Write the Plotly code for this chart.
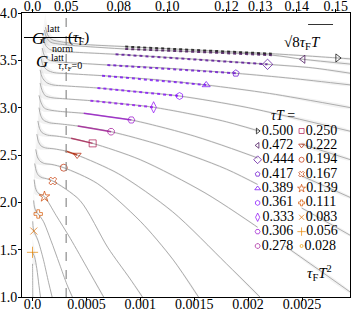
import plotly.graph_objects as go

# ---------------- data ----------------
tau_T = [0.500, 0.472, 0.444, 0.417, 0.389, 0.361, 0.333, 0.306, 0.278,
         0.250, 0.222, 0.194, 0.167, 0.139, 0.111, 0.083, 0.056, 0.028]
tau_labels = ["0.500", "0.472", "0.444", "0.417", "0.389", "0.361", "0.333", "0.306", "0.278",
              "0.250", "0.222", "0.194", "0.167", "0.139", "0.111", "0.083", "0.056", "0.028"]

# flow curves: x = tau_F T^2, y = G/Gnorm
cx_0500 = [0.00012, 0.00014, 0.00018, 0.00027, 0.00045, 0.00086, 0.0014, 0.00222, 0.00283, 0.00295]
cy_0500 = [3.85, 3.77, 3.72, 3.695, 3.67, 3.645, 3.615, 3.57, 3.525, 3.515]
cx_0472 = [0.00011, 0.00013, 0.00017, 0.00026, 0.00045, 0.00086, 0.0014, 0.00222, 0.00251, 0.00295]
cy_0472 = [3.82, 3.74, 3.69, 3.67, 3.65, 3.62, 3.595, 3.555, 3.511, 3.46]
cx_0444 = [0.00010, 0.00012, 0.00016, 0.00024, 0.00040, 0.00077, 0.0014, 0.00218, 0.0026, 0.00295]
cy_0444 = [3.75, 3.66, 3.615, 3.595, 3.585, 3.564, 3.52, 3.458, 3.42, 3.363]
cx_0417 = [0.00009, 0.00011, 0.00015, 0.00022, 0.00035, 0.000694, 0.0012, 0.001886, 0.0024, 0.00295]
cy_0417 = [3.63, 3.55, 3.505, 3.485, 3.475, 3.451, 3.42, 3.363, 3.31, 3.24]
cx_0389 = [0.00008, 0.00010, 0.00014, 0.00020, 0.00032, 0.000645, 0.0011, 0.001611, 0.0022, 0.00295]
cy_0389 = [3.52, 3.44, 3.395, 3.37, 3.36, 3.338, 3.30, 3.24, 3.15, 3.00]
cx_0361 = [0.00007, 0.00009, 0.00013, 0.00019, 0.00030, 0.000602, 0.0010, 0.001364, 0.0020, 0.00295]
cy_0361 = [3.40, 3.32, 3.265, 3.24, 3.23, 3.208, 3.165, 3.123, 3.00, 2.75]
cx_0333 = [0.00007, 0.00009, 0.00012, 0.00018, 0.00028, 0.000537, 0.0008, 0.001123, 0.0018, 0.00295]
cy_0333 = [3.26, 3.18, 3.125, 3.105, 3.095, 3.074, 3.045, 3.004, 2.85, 2.45]
cx_0306 = [0.00006, 0.00008, 0.00011, 0.00016, 0.00026, 0.000475, 0.0007, 0.000917, 0.0015, 0.0022, 0.00295]
cy_0306 = [3.13, 3.05, 2.995, 2.975, 2.96, 2.94, 2.905, 2.87, 2.70, 2.42, 2.05]
cx_0278 = [0.00006, 0.000075, 0.00010, 0.00016, 0.00024, 0.000419, 0.000729, 0.0012, 0.0018, 0.0024, 0.00295]
cy_0278 = [3.00, 2.92, 2.87, 2.84, 2.83, 2.806, 2.746, 2.60, 2.35, 2.00, 1.65]
cx_0250 = [0.00005, 0.000065, 0.00009, 0.00014, 0.00022, 0.000358, 0.000558, 0.0010, 0.0016, 0.0022, 0.00295]
cy_0250 = [2.86, 2.78, 2.735, 2.71, 2.70, 2.676, 2.623, 2.45, 2.10, 1.65, 1.05]
cx_0222 = [0.00004, 0.000055, 0.00008, 0.00012, 0.00020, 0.000306, 0.000414, 0.0008, 0.0013, 0.0018, 0.00211]
cy_0222 = [2.72, 2.64, 2.595, 2.575, 2.565, 2.542, 2.50, 2.30, 1.90, 1.35, 1.00]
cx_0194 = [0.00003, 0.000045, 0.00007, 0.00011, 0.00018, 0.00029, 0.0006, 0.0010, 0.0013, 0.00154]
cy_0194 = [2.56, 2.48, 2.435, 2.41, 2.40, 2.366, 2.20, 1.80, 1.40, 1.00]
cx_0167 = [0.00002, 0.000035, 0.000055, 0.00009, 0.00013, 0.000188, 0.00044, 0.0007, 0.0009, 0.00102]
cy_0167 = [2.41, 2.33, 2.285, 2.26, 2.25, 2.225, 2.02, 1.52, 1.20, 1.00]
cx_0139 = [0.000015, 0.000025, 0.00004, 0.00006, 0.00008, 0.000111, 0.00022, 0.00035, 0.00052, 0.00066]
cy_0139 = [2.24, 2.16, 2.115, 2.09, 2.08, 2.06, 1.86, 1.62, 1.28, 1.00]
cx_0111 = [0.00001, 0.000018, 0.00003, 0.000042, 0.000053, 0.00010, 0.00017, 0.00025, 0.00032, 0.00037]
cy_0111 = [2.02, 1.95, 1.91, 1.89, 1.877, 1.80, 1.60, 1.35, 1.13, 1.00]
cx_0083 = [0.000002, 0.000006, 0.000012, 0.00005, 0.00010, 0.00015, 0.000182]
cy_0083 = [1.80, 1.73, 1.697, 1.60, 1.40, 1.15, 1.00]
cx_0056 = [0.0, 0.00002, 0.00004, 0.00006, 0.000074]
cy_0056 = [1.472, 1.42, 1.30, 1.12, 1.00]
cx_0028 = [0.0, 0.000001, 0.000002, 0.000003]
cy_0028 = [1.35, 1.30, 1.10, 0.95]
# band half-widths: wide at the smallest flow times, narrow afterwards
band_head = [0.15, 0.08, 0.04, 0.02]
band_tail = 0.01

curves_x = [cx_0500, cx_0472, cx_0444, cx_0417, cx_0389, cx_0361, cx_0333, cx_0306, cx_0278,
            cx_0250, cx_0222, cx_0194, cx_0167, cx_0139, cx_0111, cx_0083, cx_0056, cx_0028]
curves_y = [cy_0500, cy_0472, cy_0444, cy_0417, cy_0389, cy_0361, cy_0333, cy_0306, cy_0278,
            cy_0250, cy_0222, cy_0194, cy_0167, cy_0139, cy_0111, cy_0083, cy_0056, cy_0028]

# fit-window segments (start, end) and final markers
seg_x0 = [0.00086, 0.00086, 0.00077, 0.000694, 0.000645, 0.000602, 0.000537, 0.000475, 0.000419, 0.000358, 0.000306]
seg_y0 = [3.645, 3.62, 3.564, 3.451, 3.338, 3.208, 3.074, 2.94, 2.806, 2.676, 2.542]
seg_x1 = [0.00222, 0.00222, 0.00218, 0.001886, 0.001611, 0.001364, 0.001123, 0.000917, 0.000729, 0.000558, 0.000414]
seg_y1 = [3.57, 3.555, 3.458, 3.363, 3.24, 3.123, 3.004, 2.87, 2.746, 2.623, 2.50]
mark_x = [0.00283, 0.00251, 0.00218, 0.001886, 0.001611, 0.001364, 0.001123, 0.000917, 0.000729,
          0.000558, 0.000414, 0.00029, 0.000188, 0.000111, 0.000053, 0.000012, 0.0, 0.0]
mark_y = [3.525, 3.511, 3.458, 3.363, 3.24, 3.123, 3.004, 2.87, 2.746,
          2.623, 2.50, 2.366, 2.225, 2.06, 1.877, 1.697, 1.472, 0.95]

y_ticks = [1.0, 1.5, 2.0, 2.5, 3.0, 3.5, 4.0]
x_ticks = [0.0, 0.0005, 0.001, 0.0015, 0.002, 0.0025]
x_tick_labels = ["0.0", "0.0005", "0.001", "0.0015", "0.002", "0.0025"]
top_ticks = [0.0, 0.05, 0.08, 0.10, 0.12, 0.13, 0.14, 0.15]
top_tick_labels = ["0.0", "0.05", "0.08", "0.10", "0.12", "0.13", "0.14", "0.15"]
dash_at = 0.05  # sqrt(8 tau_F) T

# ---------------- styles ----------------
colors = ["rgb(0,0,0)", "rgb(57,0,79)", "rgb(81,0,150)", "rgb(99,1,206)", "rgb(114,2,243)",
          "rgb(128,4,255)", "rgb(140,7,243)", "rgb(151,11,206)", "rgb(161,16,150)", "rgb(171,23,79)",
          "rgb(180,32,0)", "rgb(189,42,0)", "rgb(198,55,0)", "rgb(206,70,0)", "rgb(213,87,0)",
          "rgb(221,108,0)", "rgb(228,131,0)", "rgb(235,157,0)"]
symbols = ["triangle-right-open", "triangle-left-open", "diamond-open", "pentagon-open",
           "triangle-up-open", "hexagon-open", "diamond-tall-open", "hexagon2-open", "octagon-open",
           "square-open", "triangle-down-open", "circle-open", "x-open", "star-open",
           "cross-open", "x-thin-open", "cross-thin-open", "circle-open"]
msizes = [7, 7, 8, 7, 7, 7, 8, 7, 7, 7, 7, 7, 7, 8, 7, 7, 8, 3]

W, H = 353, 312
L, R, T, B = 21.5, 350.0, 13.0, 297.0
FONT = "Liberation Serif"


def px(xp):
    return (xp - L) / (R - L)


def py(yp):
    return (B - yp) / (B - T)


def rgba(c, a):
    return c.replace("rgb(", "rgba(").replace(")", f",{a})")


fig = go.Figure()

# error bands
for xs, ys in zip(curves_x, curves_y):
    es = [band_head[k] if k < len(band_head) else band_tail for k in range(len(xs))]
    up = [y + e for y, e in zip(ys, es)]
    lo = [y - e for y, e in zip(ys, es)]
    fig.add_trace(go.Scatter(x=xs + xs[::-1], y=up + lo[::-1], fill="toself",
                             fillcolor="rgba(0,0,0,0.05)", line=dict(width=0, shape="spline", smoothing=0.8),
                             mode="lines", hoverinfo="skip", showlegend=False))
# central curves
for xs, ys in zip(curves_x, curves_y):
    fig.add_trace(go.Scatter(x=xs, y=ys, mode="lines",
                             line=dict(color="rgba(165,165,165,0.9)", width=1, shape="spline", smoothing=0.8),
                             hoverinfo="skip", showlegend=False))

# fit-window segments
for i in range(len(seg_x0)):
    dotted = tau_T[i] > 0.32
    fig.add_trace(go.Scatter(x=[seg_x0[i], seg_x1[i]], y=[seg_y0[i], seg_y1[i]], mode="lines",
                             line=dict(color=rgba(colors[i], 0.75), width=2 if dotted else 1.5,
                                       dash="dot" if dotted else "solid"),
                             hoverinfo="skip", showlegend=False))

# end markers
for i in range(len(tau_T)):
    fig.add_trace(go.Scatter(x=[mark_x[i]], y=[mark_y[i]], mode="markers",
                             marker=dict(symbol=symbols[i], size=msizes[i],
                                         color=rgba(colors[i], 0.7),
                                         line=dict(width=1, color=rgba(colors[i], 0.7))),
                             hoverinfo="skip", showlegend=False))

# dummy trace for the top axis
fig.add_trace(go.Scatter(x=[0], y=[2], xaxis="x2", mode="markers",
                         marker=dict(opacity=0), hoverinfo="skip", showlegend=False))

# custom two-column legend on an auxiliary axis (column, row)
n_rows = 9
for i in range(len(tau_T)):
    col = i // n_rows
    row = i % n_rows
    fig.add_trace(go.Scatter(x=[col], y=[row], xaxis="x3", yaxis="y3", mode="markers+text",
                             text=[tau_labels[i]], textposition="middle right",
                             textfont=dict(family=FONT, size=14, color="black"),
                             marker=dict(symbol=symbols[i], size=max(msizes[i] - 2, 3),
                                         color=rgba(colors[i], 0.7),
                                         line=dict(width=1, color=rgba(colors[i], 0.7))),
                             hoverinfo="skip", showlegend=False, cliponaxis=False))

x_range = [-0.0000975, 0.002945]
fig.update_layout(
    width=W, height=H,
    margin=dict(l=L, r=W - R, t=T, b=H - B, pad=0),
    paper_bgcolor="white", plot_bgcolor="white",
    font=dict(family=FONT, size=14, color="black"),
    xaxis=dict(range=x_range, tickvals=x_ticks, ticktext=x_tick_labels, showgrid=False,
               zeroline=False, showline=True, linecolor="black", linewidth=1, mirror=True,
               ticks="outside", ticklen=3, tickcolor="black", automargin=False,
               ticklabelstandoff=-9, tickfont=dict(size=14)),
    xaxis2=dict(range=x_range, overlaying="x", side="top", anchor="y",
                tickvals=[s * s / 8 for s in top_ticks], ticktext=top_tick_labels,
                showgrid=False, zeroline=False, showline=True, linecolor="black",
                ticks="outside", ticklen=3, tickcolor="black", automargin=False,
                ticklabelstandoff=-8, tickfont=dict(size=14)),
    yaxis=dict(range=[1.0, 4.0], tickvals=y_ticks, ticktext=[f"{v:.1f}" for v in y_ticks],
               showgrid=False, zeroline=False, showline=True, linecolor="black", linewidth=1,
               mirror=True, ticks="outside", ticklen=3, tickcolor="black", automargin=False,
               ticklabelstandoff=-2, tickfont=dict(size=14)),
    xaxis3=dict(domain=[px(257.5), px(301.5)], range=[0, 1], visible=False, anchor="y3"),
    yaxis3=dict(domain=[py(246.0), py(131.0)], range=[n_rows - 1, 0], visible=False, anchor="x3"),
    showlegend=False,
)

# vertical dashed line at sqrt(8 tau_F) T = 0.05
fig.add_shape(type="line", xref="x", yref="paper", x0=dash_at ** 2 / 8, x1=dash_at ** 2 / 8,
              y0=0, y1=1, line=dict(color="rgba(140,140,140,0.8)", width=1.5, dash="dash"))

# y-label fraction, built from pieces
ann = [
    dict(text="<i>G</i>", x=30, y=27, size=17),
    dict(text="latt", x=44.5, y=21, size=10),
    dict(text="<i>τ</i>", x=40, y=32, size=10),
    dict(text="(<i>τ</i><sub>F</sub>)", x=66, y=27, size=15),
    dict(text="<i>G</i>", x=34, y=50, size=17),
    dict(text="norm", x=50, y=41, size=10),
    dict(text="latt", x=48.5, y=50, size=10),
    dict(text="<i>τ</i>,<i>τ</i><sub>F</sub>=0", x=56, y=58.5, size=10),
    dict(text="<i>τT</i> =", x=297, y=116, size=14),
    dict(text="√8<i>τ</i><sub>F</sub><i>T</i>", x=323, y=32, size=15),
    dict(text="<i>τ</i><sub>F</sub><i>T</i><sup>2</sup>", x=334, y=285, size=15),
]
for a in ann:
    fig.add_annotation(text=a["text"], x=px(a["x"]), y=py(a["y"]), xref="paper", yref="paper",
                       showarrow=False, font=dict(family=FONT, size=a["size"], color="black"))
fig.add_shape(type="line", xref="paper", yref="paper", x0=px(23.5), x1=px(81), y0=py(37.5), y1=py(37.5),
              line=dict(color="black", width=1))
fig.add_shape(type="line", xref="paper", yref="paper", x0=px(308), x1=px(333), y0=py(24.5), y1=py(24.5),
              line=dict(color="black", width=0.8))

fig.write_html("out.html", config={"displayModeBar": False},
               post_script="document.body.style.margin='0px';document.body.style.overflow='hidden';")
